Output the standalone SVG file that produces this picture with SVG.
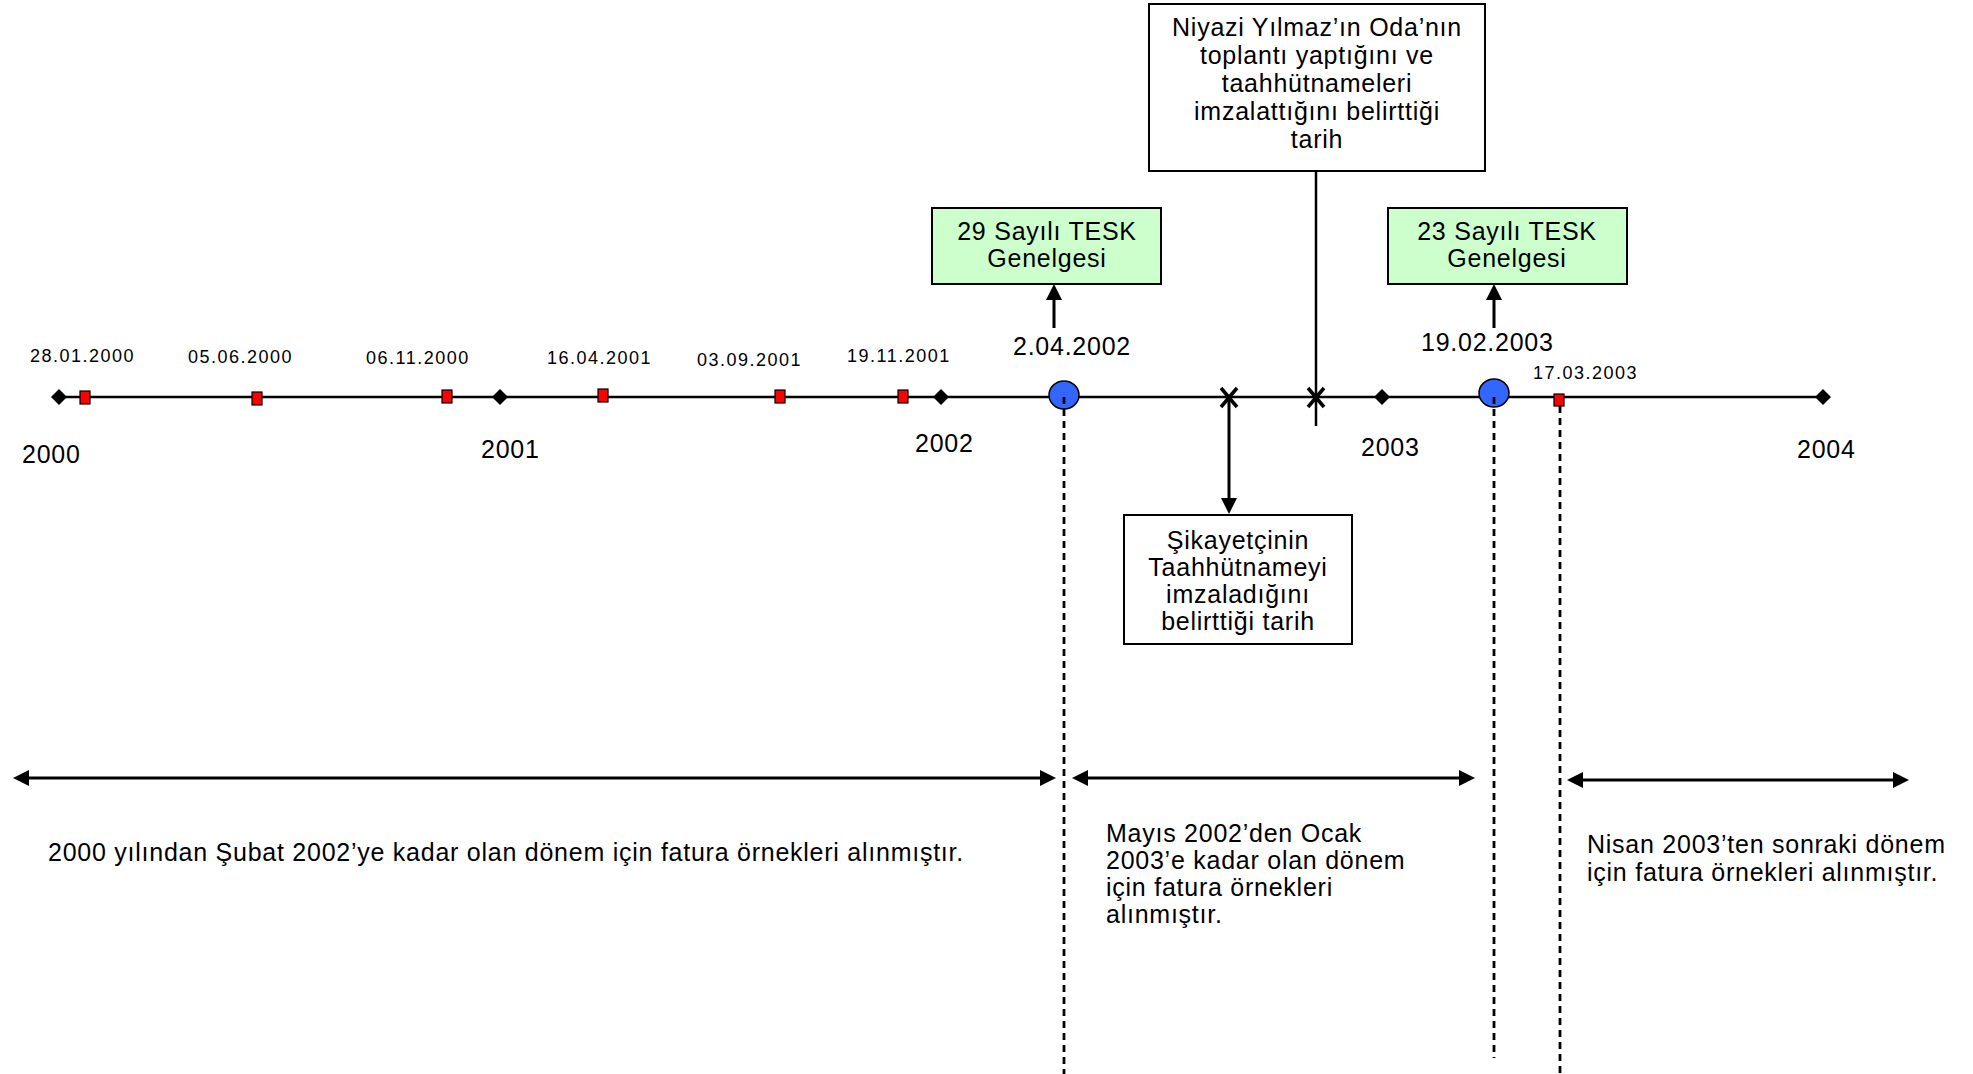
<svg xmlns="http://www.w3.org/2000/svg" width="1973" height="1074" viewBox="0 0 1973 1074">
<style>
.t{font-family:"Liberation Sans",Arial,sans-serif;font-size:25px;letter-spacing:0.75px;fill:#000}
.s{font-size:18px;letter-spacing:1.5px}
.m{text-anchor:middle}
.ln{stroke:#000;stroke-width:2.5;fill:none}
.ar{stroke:#000;stroke-width:3;fill:none}
.dash{stroke:#000;stroke-width:2.8;stroke-dasharray:7 5;fill:none}
.box{fill:#fff;stroke:#000;stroke-width:2}
.green{fill:#ccffcc;stroke:#000;stroke-width:2}
.sq{fill:#ff0000;stroke:#000;stroke-width:1.2}
.dia{fill:#000}
.circ{fill:#3366ff;stroke:#000;stroke-width:1.5}
.x{stroke:#000;stroke-width:3.5}
</style>
<defs>
<marker id="head" viewBox="0 0 16 16" markerWidth="16" markerHeight="16" refX="8" refY="8" orient="auto-start-reverse" markerUnits="userSpaceOnUse">
<path d="M0,0 L16,8 L0,16 z" fill="#000"/>
</marker>
</defs>

<g id="connectors">
<line class="ln" x1="59" y1="397" x2="1823" y2="397"/>
<line class="ar" x1="1054" y1="328" x2="1054" y2="292" marker-end="url(#head)"/>
<line class="ar" x1="1494" y1="328" x2="1494" y2="292" marker-end="url(#head)"/>
<line class="ar" x1="1229" y1="397" x2="1229" y2="506" marker-end="url(#head)"/>
<line class="ln" x1="1316" y1="171" x2="1316" y2="426"/>
<line class="ar" x1="21" y1="778" x2="1048" y2="778" marker-start="url(#head)" marker-end="url(#head)"/>
<line class="ar" x1="1080" y1="778" x2="1467" y2="778" marker-start="url(#head)" marker-end="url(#head)"/>
<line class="ar" x1="1575" y1="780" x2="1901" y2="780" marker-start="url(#head)" marker-end="url(#head)"/>
</g>

<g id="year-markers">
<polygon class="dia" points="51,397 59,389 67,397 59,405"/>
<polygon class="dia" points="492,397 500,389 508,397 500,405"/>
<polygon class="dia" points="933,397 941,389 949,397 941,405"/>
<polygon class="dia" points="1374,397 1382,389 1390,397 1382,405"/>
<polygon class="dia" points="1815,397 1823,389 1831,397 1823,405"/>
<text class="t" x="22" y="463">2000</text>
<text class="t" x="481" y="458">2001</text>
<text class="t" x="915" y="452">2002</text>
<text class="t" x="1361" y="456">2003</text>
<text class="t" x="1797" y="458">2004</text>
</g>

<g id="invoice-dates">
<rect class="sq" x="80" y="391" width="10" height="13"/>
<rect class="sq" x="252" y="392" width="10" height="13"/>
<rect class="sq" x="442" y="390" width="10" height="13"/>
<rect class="sq" x="598" y="389" width="10" height="13"/>
<rect class="sq" x="775" y="390" width="10" height="13"/>
<rect class="sq" x="898" y="390" width="10" height="13"/>
<rect class="sq" x="1554" y="394" width="10" height="12"/>
<text class="t s" x="30" y="362">28.01.2000</text>
<text class="t s" x="188" y="363">05.06.2000</text>
<text class="t s" x="366" y="364">06.11.2000</text>
<text class="t s" x="547" y="364">16.04.2001</text>
<text class="t s" x="697" y="366">03.09.2001</text>
<text class="t s" x="847" y="362">19.11.2001</text>
<text class="t s" x="1533" y="379">17.03.2003</text>
</g>

<g id="circular-29">
<ellipse class="circ" cx="1064" cy="395" rx="15" ry="14"/>
<text class="t" x="1013" y="355">2.04.2002</text>
<rect class="green" x="932" y="208" width="229" height="76"/>
<text class="t m" x="1047" y="240">29 Sayılı TESK</text>
<text class="t m" x="1047" y="267">Genelgesi</text>
</g>

<g id="circular-23">
<ellipse class="circ" cx="1494" cy="393" rx="15" ry="14"/>
<text class="t" x="1421" y="351">19.02.2003</text>
<rect class="green" x="1388" y="208" width="239" height="76"/>
<text class="t m" x="1507" y="240">23 Sayılı TESK</text>
<text class="t m" x="1507" y="267">Genelgesi</text>
</g>

<g id="dividers">
<line class="dash" x1="1064" y1="397" x2="1064" y2="1074"/>
<line class="dash" x1="1494" y1="397" x2="1494" y2="1058"/>
<line class="dash" x1="1560" y1="406" x2="1560" y2="1074"/>
</g>

<g id="mark-sikayetci">
<line class="x" x1="1221" y1="388" x2="1237" y2="407"/>
<line class="x" x1="1237" y1="388" x2="1221" y2="407"/>
</g>
<g id="mark-niyazi">
<line class="x" x1="1308" y1="388" x2="1324" y2="407"/>
<line class="x" x1="1324" y1="388" x2="1308" y2="407"/>
</g>

<g id="box-niyazi">
<rect class="box" x="1149" y="4" width="336" height="167"/>
<text class="t m" x="1317" y="36">Niyazi Yılmaz’ın Oda’nın</text>
<text class="t m" x="1317" y="64">toplantı yaptığını ve</text>
<text class="t m" x="1317" y="92">taahhütnameleri</text>
<text class="t m" x="1317" y="120">imzalattığını belirttiği</text>
<text class="t m" x="1317" y="148">tarih</text>
</g>

<g id="box-sikayetci">
<rect class="box" x="1124" y="515" width="228" height="129"/>
<text class="t m" x="1238" y="549">Şikayetçinin</text>
<text class="t m" x="1238" y="576">Taahhütnameyi</text>
<text class="t m" x="1238" y="603">imzaladığını</text>
<text class="t m" x="1238" y="630">belirttiği tarih</text>
</g>

<g id="period-1">
<text class="t" x="48" y="861">2000 yılından Şubat 2002’ye kadar olan dönem için fatura örnekleri alınmıştır.</text>
</g>
<g id="period-2">
<text class="t" x="1106" y="842">Mayıs 2002’den Ocak</text>
<text class="t" x="1106" y="869">2003’e kadar olan dönem</text>
<text class="t" x="1106" y="896">için fatura örnekleri</text>
<text class="t" x="1106" y="923">alınmıştır.</text>
</g>
<g id="period-3">
<text class="t" x="1587" y="853">Nisan 2003’ten sonraki dönem</text>
<text class="t" x="1587" y="881">için fatura örnekleri alınmıştır.</text>
</g>
</svg>
